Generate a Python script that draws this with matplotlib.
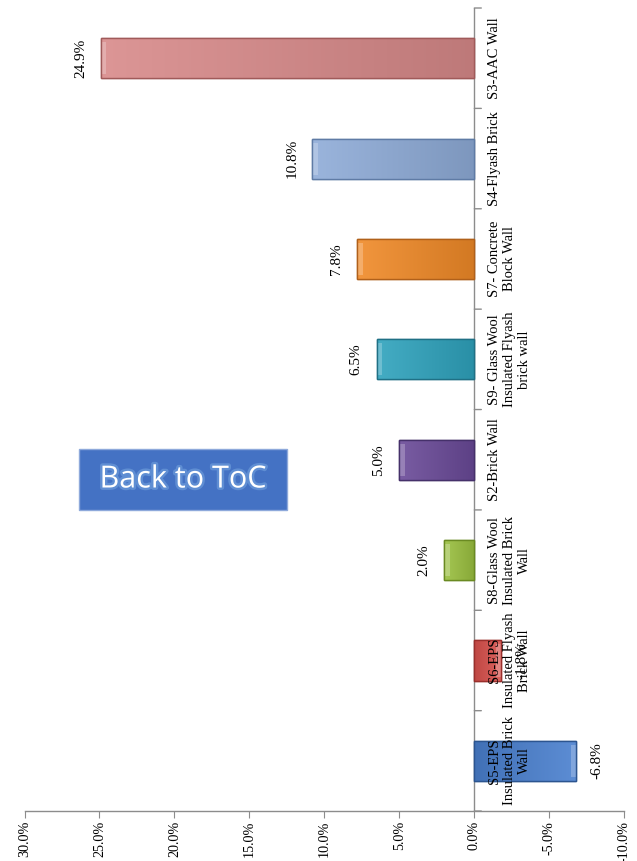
import matplotlib
matplotlib.use("Agg")
import matplotlib.pyplot as plt
import matplotlib.patheffects as pe
from matplotlib.patches import Rectangle
import matplotlib.colors as mcolors
import numpy as np

# ---- data (bottom to top) ----
categories = [
    "S5-EPS\nInsulated Brick\nWall",
    "S6-EPS\nInsulated Flyash\nBrick Wall",
    "S8-Glass Wool\nInsulated Brick\nWall",
    "S2-Brick Wall",
    "S9- Glass Wool\nInsulated Flyash\nbrick wall",
    "S7- Concrete\nBlock Wall",
    "S4-Flyash Brick",
    "S3-AAC Wall",
]
values = [-6.8, -1.8, 2.0, 5.0, 6.5, 7.8, 10.8, 24.9]
bar_colors = ["#4A80CF", "#D9514C", "#9BC040", "#6A4A98",
              "#2FA3BD", "#F08A28", "#8FACD8", "#D88A8A"]
edge_colors = ["#2C5590", "#9A2F2C", "#6A8A22", "#45306A",
               "#1F7085", "#B0601A", "#5F7BA5", "#A05A5A"]
tick_values = [30, 25, 20, 15, 10, 5, 0, -5, -10]

serif = ["Liberation Serif", "DejaVu Serif"]

fig = plt.figure(figsize=(6.37, 8.61), dpi=100)
ax = fig.add_axes([0.0385, 0.0580, 0.9415, 0.9327])

y = list(range(len(categories)))
bars = ax.barh(y, values, height=0.4, color=bar_colors, edgecolor=edge_colors,
               linewidth=1.0, zorder=3)

ax.set_xlim(30, -10)
ax.set_ylim(-0.5, len(categories) - 0.5)

# gradient shading inside each bar (lighter at the outer end, darker at base)
for b, c in zip(bars, bar_colors):
    base = np.array(mcolors.to_rgb(c))
    n = 64
    t = np.linspace(0, 1, n)
    light = np.clip(base + (1 - base) * 0.10, 0, 1)
    dark = base * 0.88
    cols = light[None, :] * (1 - t[:, None]) + dark[None, :] * t[:, None]
    x0 = b.get_x()
    w = b.get_width()
    y0 = b.get_y()
    h = b.get_height()
    outer = x0 + w
    im = ax.imshow(cols[None, :, :], extent=(outer, 0, y0, y0 + h),
                   aspect="auto", zorder=3.5, interpolation="bilinear")
    im.set_clip_path(b)
    rim = np.clip(base + (1 - base) * 0.45, 0, 1)
    strip = 0.35
    sx = outer - np.sign(w) * strip
    ax.add_patch(Rectangle((min(outer, sx), y0 + h * 0.1), strip, h * 0.8,
                           facecolor=rim, edgecolor="none", alpha=0.6,
                           zorder=3.6))
    ax.add_patch(Rectangle((x0, y0), w, h, facecolor="none",
                           edgecolor=b.get_edgecolor(), linewidth=1.0,
                           zorder=3.7))

for s in ["top", "right", "left"]:
    ax.spines[s].set_visible(False)
ax.spines["bottom"].set_color("#8C8C8C")
ax.spines["bottom"].set_linewidth(1.0)

ax.set_xticks(tick_values)
ax.set_xticklabels([f"{t:.1f}%" for t in tick_values], rotation=90,
                   fontfamily=serif, fontsize=10.2)
ax.tick_params(axis="x", direction="out", length=5, color="#8C8C8C", pad=2)
ax.set_yticks([])

# category axis at zero
ax.axvline(0, color="#8C8C8C", linewidth=1.0, zorder=2)
for k in range(len(categories) + 1):
    yb = k - 0.5
    ax.annotate("", xy=(0, yb), xytext=(7, 0), textcoords="offset pixels",
                arrowprops=dict(arrowstyle="-", color="#8C8C8C", lw=1.0,
                                shrinkA=0, shrinkB=0))

# category labels
for yi, lab in zip(y, categories):
    ax.annotate(lab, xy=(0, yi), xytext=(14, 0), textcoords="offset pixels",
                rotation=90, ha="left", va="center", multialignment="center",
                fontfamily=serif, fontsize=10.5, linespacing=1.2, zorder=6)

# value labels
for yi, v in zip(y, values):
    if v >= 0:
        ax.annotate(f"{v:.1f}%", xy=(v, yi), xytext=(-14, 0),
                    textcoords="offset pixels", rotation=90, ha="right",
                    va="center", fontfamily=serif, fontsize=11, zorder=6)
    else:
        ax.annotate(f"{v:.1f}%", xy=(v, yi), xytext=(14, 0),
                    textcoords="offset pixels", rotation=90, ha="left",
                    va="center", fontfamily=serif, fontsize=11, zorder=6)

# "Back to ToC" button
bx0, by0, bx1, by1 = 79, 449, 287, 510
W, H = 637, 861
btn = Rectangle((bx0 / W, 1 - by1 / H), (bx1 - bx0) / W, (by1 - by0) / H,
                transform=fig.transFigure, facecolor="#4472C4",
                edgecolor="#8EA9DB", linewidth=1.0, zorder=10)
fig.add_artist(btn)
fig.text((bx0 + bx1) / 2 / W, 1 - (by0 + by1) / 2 / H, "Back to ToC",
         ha="center", va="center", color="white", fontsize=22,
         fontfamily=["Open Sans", "DejaVu Sans"], zorder=11,
         path_effects=[pe.withStroke(linewidth=3.5, foreground="#5F8ED3")])

fig.savefig("out.png", dpi=100)
